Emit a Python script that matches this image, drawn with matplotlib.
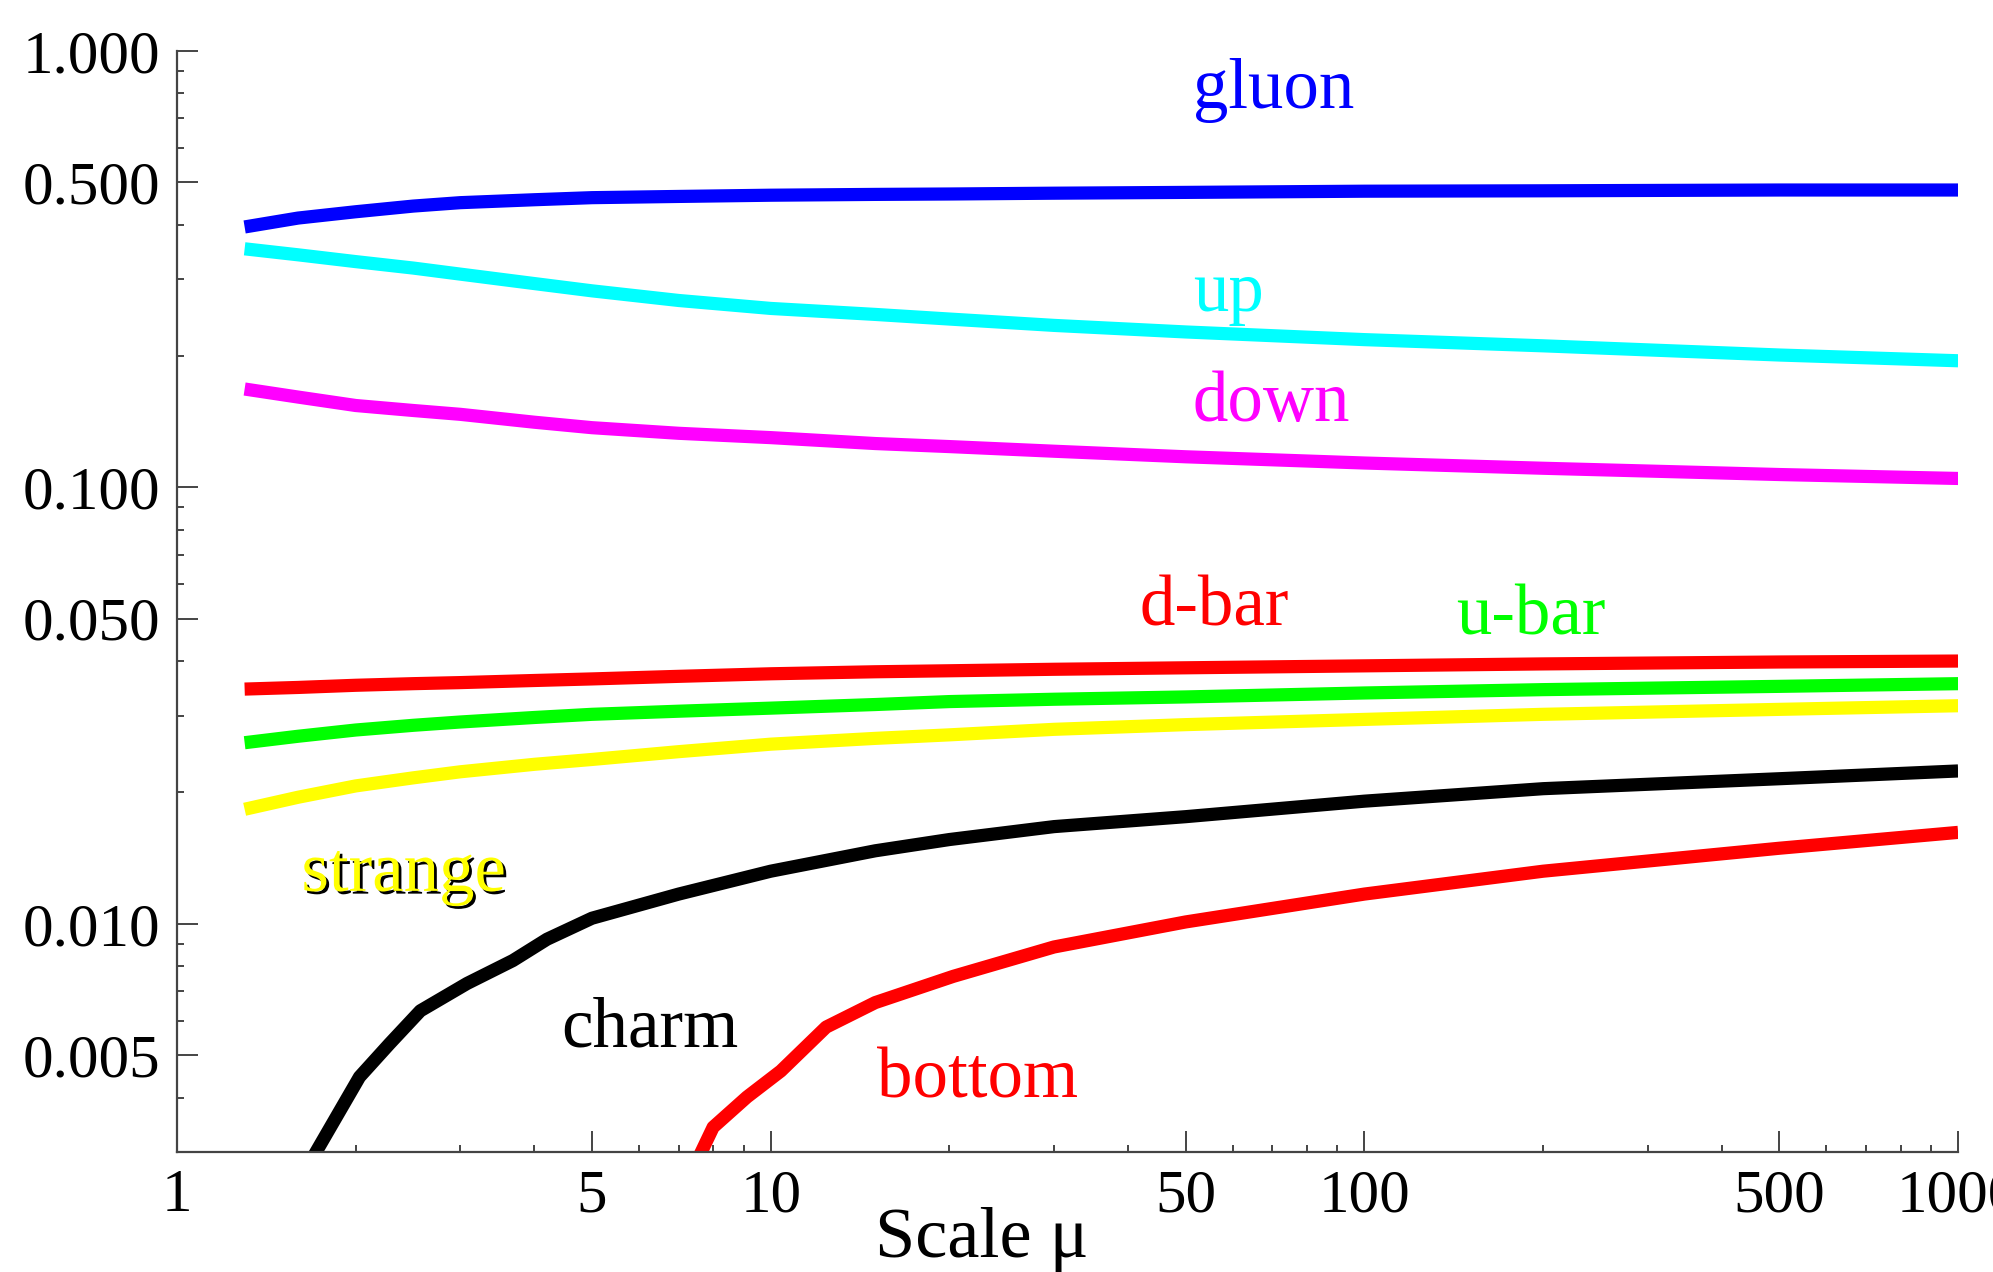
import numpy as np
import matplotlib
matplotlib.use("Agg")
import matplotlib.pyplot as plt
import matplotlib.ticker as ticker
import matplotlib.patheffects as pe

plt.rcParams['font.family'] = ['Liberation Serif', 'DejaVu Serif']

# scale mu and momentum fractions
mu = [1.3, 1.6, 2, 2.5, 3, 4, 5, 7, 10, 15, 20, 30, 50, 100, 200, 500, 1000]
gluon = [0.395, 0.414, 0.428, 0.441, 0.449, 0.456, 0.461, 0.464, 0.467, 0.469, 0.470, 0.472,
         0.474, 0.477, 0.478, 0.480, 0.480]
up = [0.352, 0.341, 0.329, 0.318, 0.308, 0.293, 0.282, 0.268, 0.257, 0.249, 0.243, 0.235,
      0.227, 0.218, 0.211, 0.201, 0.195]
down = [0.168, 0.161, 0.154, 0.150, 0.147, 0.141, 0.137, 0.133, 0.130, 0.126, 0.124, 0.121,
        0.1175, 0.1137, 0.1106, 0.107, 0.1048]
dbar = [0.0345, 0.0348, 0.0352, 0.0355, 0.0357, 0.0361, 0.0364, 0.0369, 0.0374, 0.0378, 0.0380,
        0.0383, 0.0386, 0.0390, 0.0394, 0.0398, 0.0400]
ubar = [0.0260, 0.0269, 0.0278, 0.0285, 0.0290, 0.0297, 0.0302, 0.0307, 0.0312, 0.0318, 0.0323,
        0.0327, 0.0331, 0.0338, 0.0344, 0.0350, 0.0355]
strange = [0.0183, 0.0195, 0.0207, 0.0216, 0.0223, 0.0232, 0.0238, 0.0248, 0.0258, 0.0266, 0.0271,
           0.0279, 0.0286, 0.0294, 0.0302, 0.0310, 0.0316]

mu_charm = [1.69, 2.03, 2.28, 2.57, 3.08, 3.68, 4.2, 5, 7, 10, 15, 20, 30, 50, 100, 200, 500, 1000]
charm = [0.0029, 0.00446, 0.00531, 0.00632, 0.0073, 0.00824, 0.00922, 0.0103, 0.0117, 0.0132,
         0.0147, 0.0156, 0.0167, 0.0176, 0.0191, 0.0204, 0.0215, 0.0224]

mu_bottom = [7.55, 8.0, 9.12, 10.4, 12.4, 15, 20.3, 30, 50, 100, 200, 500, 1000]
bottom = [0.0029, 0.00342, 0.00401, 0.0046, 0.0058, 0.0066, 0.00758, 0.00885, 0.0101, 0.0117,
          0.0132, 0.0149, 0.0162]

x_ticks = [1, 5, 10, 50, 100, 500, 1000]
y_ticks = [0.005, 0.01, 0.05, 0.1, 0.5, 1.0]

fig = plt.figure(figsize=(19.93, 12.72), dpi=100)
ax = fig.add_axes([0.0888, 0.0943, 0.8937, 0.8657])

lw = 9.5
ax.plot(mu, gluon, color='#0000ff', lw=lw, solid_capstyle='butt')
ax.plot(mu, up, color='#00ffff', lw=lw, solid_capstyle='butt')
ax.plot(mu, down, color='#ff00ff', lw=lw, solid_capstyle='butt')
ax.plot(mu, dbar, color='#ff0000', lw=lw, solid_capstyle='butt')
ax.plot(mu, ubar, color='#00ff00', lw=lw, solid_capstyle='butt')
ax.plot(mu, strange, color='#ffff00', lw=lw, solid_capstyle='butt')
ax.plot(mu_charm, charm, color='black', lw=lw, solid_capstyle='butt')
ax.plot(mu_bottom, bottom, color='#ff0000', lw=lw, solid_capstyle='butt')

ax.set_xscale('log')
ax.set_yscale('log')
ax.set_xlim(1, 1000)
ax.set_ylim(0.003, 1.0)

ax.xaxis.set_major_locator(ticker.FixedLocator(x_ticks))
ax.xaxis.set_major_formatter(ticker.FixedFormatter([str(v) for v in x_ticks]))
ax.xaxis.set_minor_locator(ticker.LogLocator(base=10, subs=(2, 3, 4, 6, 7, 8, 9)))
ax.xaxis.set_minor_formatter(ticker.NullFormatter())
ax.yaxis.set_major_locator(ticker.FixedLocator(y_ticks))
ax.yaxis.set_major_formatter(ticker.FixedFormatter(['%.3f' % v for v in y_ticks]))
ax.yaxis.set_minor_locator(ticker.LogLocator(base=10, subs=(2, 3, 4, 6, 7, 8, 9)))
ax.yaxis.set_minor_formatter(ticker.NullFormatter())

for s in ['top', 'right']:
    ax.spines[s].set_visible(False)
for s in ['left', 'bottom']:
    ax.spines[s].set_color('#444444')
    ax.spines[s].set_linewidth(1.6)

ax.tick_params(which='major', direction='in', length=15, width=1.4, color='#444444',
               labelsize=44)
ax.tick_params(which='minor', direction='in', length=5, width=1.4, color='#444444')
ax.tick_params(axis='x', which='major', pad=12)
ax.tick_params(axis='y', which='major', pad=12)

# axis title sits left of centre, tucked in between the tick labels
ax.text(0.452, -0.095, 'Scale μ', fontsize=52, ha='center', va='baseline',
        transform=ax.transAxes)

# curve labels
fs = 51
ax.text(51.4, 0.739, 'gluon', color='#0000ff', fontsize=fs)
ax.text(51.4, 0.253, 'up', color='#00ffff', fontsize=fs)
ax.text(51.4, 0.142, 'down', color='#ff00ff', fontsize=fs)
ax.text(41.8, 0.0483, 'd-bar', color='#ff0000', fontsize=fs)
ax.text(142.6, 0.0461, 'u-bar', color='#00ff00', fontsize=fs)
ax.text(1.62, 0.0119, 'strange', color='#ffff00', fontsize=fs,
        path_effects=[pe.withSimplePatchShadow(offset=(2, -2), shadow_rgbFace='black', alpha=1.0)])
ax.text(4.43, 0.00524, 'charm', color='black', fontsize=fs)
ax.text(15.1, 0.0040, 'bottom', color='#ff0000', fontsize=fs)

fig.savefig('out.png', dpi=100)
